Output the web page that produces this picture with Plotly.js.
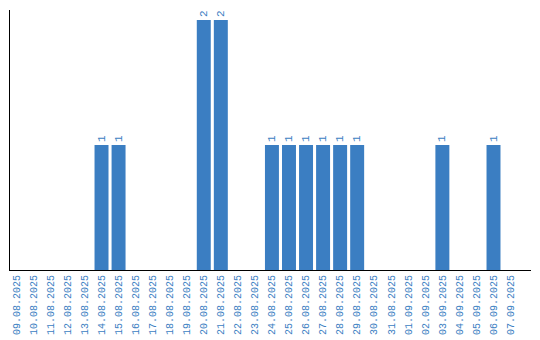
<!DOCTYPE html>
<html>
<head>
<meta charset="utf-8">
<script src="https://cdn.plot.ly/plotly-3.0.1.min.js"></script>
<style>html,body{margin:0;padding:0;background:#fff;}#chart{width:540px;height:340px;}</style>
</head>
<body>
<div id="chart"></div>
<script>
const dates = ["09.08.2025","10.08.2025","11.08.2025","12.08.2025","13.08.2025","14.08.2025","15.08.2025","16.08.2025","17.08.2025","18.08.2025","19.08.2025","20.08.2025","21.08.2025","22.08.2025","23.08.2025","24.08.2025","25.08.2025","26.08.2025","27.08.2025","28.08.2025","29.08.2025","30.08.2025","31.08.2025","01.09.2025","02.09.2025","03.09.2025","04.09.2025","05.09.2025","06.09.2025","07.09.2025"];
const counts = [0,0,0,0,0,1,1,0,0,0,0,2,2,0,0,1,1,1,1,1,1,0,0,0,0,1,0,0,1,0];
const labels = counts.map(v => v > 0 ? String(v) : "");

const blue = "#3b7ec2";
const trace = {
  type: "bar",
  x: dates,
  y: counts,
  text: labels,
  textposition: "outside",
  textangle: -90,
  cliponaxis: false,
  textfont: {family: "Liberation Mono", size: 11, color: blue},
  marker: {color: blue},
  hoverinfo: "none"
};
const layout = {
  width: 540, height: 340,
  margin: {l: 10, r: 9, t: 10, b: 70},
  paper_bgcolor: "#fff", plot_bgcolor: "#fff",
  showlegend: false,
  bargap: 0.18,
  xaxis: {
    type: "category",
    range: [-0.37, 30.2],
    tickangle: -90,
    tickfont: {family: "Liberation Mono", size: 10, color: blue},
    showline: true, linecolor: "#000", linewidth: 1,
    showgrid: false, zeroline: false, ticks: "", ticklen: 0
  },
  yaxis: {
    range: [0, 2.08],
    showline: true, linecolor: "#000", linewidth: 1,
    showgrid: false, zeroline: false, showticklabels: false, ticks: ""
  }
};
Plotly.newPlot("chart", [trace], layout, {staticPlot: true, displayModeBar: false});
</script>
</body>
</html>
